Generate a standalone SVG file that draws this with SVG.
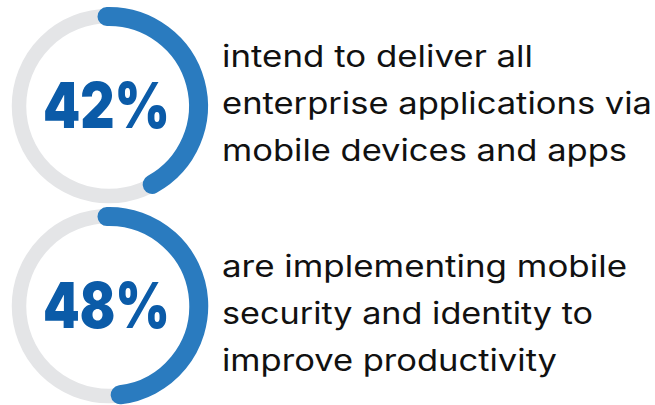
<svg xmlns="http://www.w3.org/2000/svg" width="655" height="405" viewBox="0 0 655 405">
  <style>
    .track { fill: none; stroke: #e4e5e7; stroke-width: 14.5; }
    .arc { fill: none; stroke: #2a7bbf; stroke-width: 19; stroke-linecap: round; }
    .num { font-family: Inter, "Liberation Sans", sans-serif; font-weight: 900; font-size: 63px; fill: #0b5ba8; }
    .body { font-family: Inter, "Liberation Sans", sans-serif; font-size: 30px; fill: #111111; font-variant-ligatures: none; }
  </style>
  <rect width="655" height="405" fill="#ffffff"/>
  <g id="stat-42">
    <circle class="track" cx="109" cy="106" r="90"/>
    <path class="arc" d="M 107 16.5 A 89.5 89.5 0 0 1 152.1 184.4"/>
    <text class="num" x="43" y="128" textLength="127" lengthAdjust="spacingAndGlyphs">42%</text>
    <text class="body" x="222" y="67" textLength="311" lengthAdjust="spacingAndGlyphs">intend to deliver all</text>
    <text class="body" x="222" y="114" textLength="430" lengthAdjust="spacingAndGlyphs">enterprise applications via</text>
    <text class="body" x="222" y="161" textLength="405" lengthAdjust="spacingAndGlyphs">mobile devices and apps</text>
  </g>
  <g id="stat-48">
    <circle class="track" cx="109" cy="306" r="90"/>
    <path class="arc" d="M 107 216.5 A 89.5 89.5 0 0 1 120.2 394.8"/>
    <text class="num" x="43" y="328" textLength="127" lengthAdjust="spacingAndGlyphs">48%</text>
    <text class="body" x="222" y="277" textLength="405" lengthAdjust="spacingAndGlyphs">are implementing mobile</text>
    <text class="body" x="222" y="324" textLength="371" lengthAdjust="spacingAndGlyphs">security and identity to</text>
    <text class="body" x="222" y="371" textLength="335" lengthAdjust="spacingAndGlyphs">improve productivity</text>
  </g>
  <g id="connectors"/>
</svg>
